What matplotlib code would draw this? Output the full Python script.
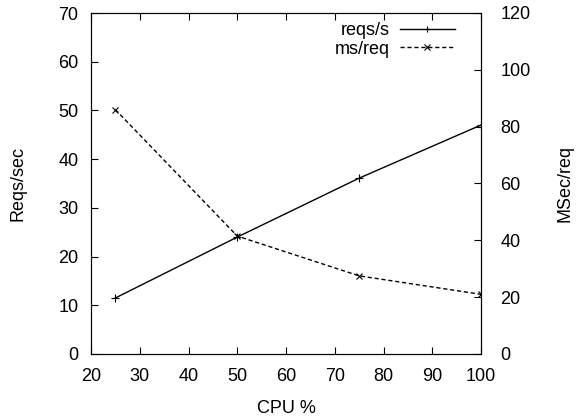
import matplotlib.pyplot as plt

plt.rcParams['font.family'] = ['Liberation Sans', 'DejaVu Sans']
plt.rcParams['font.size'] = 13

cpu = [25, 50, 75, 100]
reqs_per_sec = [11.5, 24.0, 36.1, 47.0]
ms_per_req = [86.0, 41.5, 27.5, 21.0]

fig = plt.figure(figsize=(5.76, 4.2), dpi=100)
ax = fig.add_axes([91/576, 1 - 354/420, 390/576, 341/420])
ax2 = ax.twinx()

l1, = ax.plot(cpu, reqs_per_sec, color='black', lw=1, marker='+', ms=6, mew=0.8, label='reqs/s')
l2, = ax2.plot(cpu, ms_per_req, color='black', lw=1, ls=(0, (3, 2)), marker='x', ms=5, mew=0.8, label='ms/req')

ax.set_xlim(20, 100)
ax.set_ylim(0, 70)
ax2.set_ylim(0, 120)
ax.set_xticks(range(20, 101, 10))
ax.set_yticks(range(0, 71, 10))
ax2.set_yticks(range(0, 121, 20))

ax.tick_params(axis='x', direction='in', length=5, top=True, pad=10)
ax.tick_params(axis='y', direction='in', length=5, right=False, pad=9)
ax2.tick_params(direction='in', length=5, pad=14)

ax.set_xlabel('CPU %', va='center')
ax.set_ylabel('Reqs/sec', va='center')
ax2.set_ylabel('MSec/req', va='center')
ax.xaxis.set_label_coords(0.5, -0.16)
ax.yaxis.set_label_coords(-0.187, 0.5)
ax2.yaxis.set_label_coords(1.215, 0.5)

ax.legend(handles=[l1, l2], loc='upper right', frameon=False, markerfirst=False,
          bbox_to_anchor=(455/576, 1 - 22/420), bbox_transform=fig.transFigure,
          borderpad=0, borderaxespad=0, handlelength=3.05, handletextpad=0.55,
          labelspacing=0.1, markerscale=0.8)

fig.savefig('out.png', dpi=100)
